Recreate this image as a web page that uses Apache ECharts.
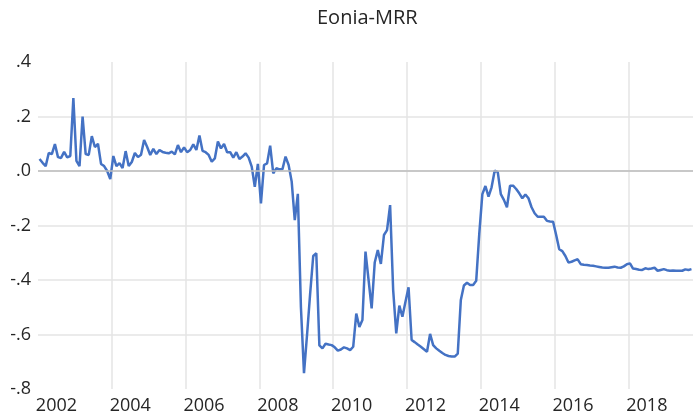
<!DOCTYPE html>
<html>
<head>
<meta charset="utf-8">
<script src="https://cdn.jsdelivr.net/npm/echarts@6/dist/echarts.min.js"></script>
<style>
html,body{margin:0;padding:0;background:#fff;}
#chart{width:693px;height:419px;}
</style>
</head>
<body>
<div id="chart"></div>
<script>
// Eonia minus MRR, monthly values, one array per year (Jan..Dec)
const startYear = 2002;
const v2002 = [0.044, 0.030, 0.018, 0.066, 0.062, 0.099, 0.051, 0.048, 0.070, 0.050, 0.055, 0.268];
const v2003 = [0.037, 0.018, 0.200, 0.062, 0.059, 0.128, 0.088, 0.100, 0.026, 0.018, 0.000, -0.030];
const v2004 = [0.055, 0.018, 0.029, 0.011, 0.073, 0.018, 0.033, 0.066, 0.051, 0.060, 0.114, 0.088];
const v2005 = [0.059, 0.081, 0.062, 0.077, 0.070, 0.067, 0.065, 0.071, 0.061, 0.095, 0.069, 0.087];
const v2006 = [0.069, 0.077, 0.098, 0.077, 0.130, 0.074, 0.069, 0.059, 0.034, 0.046, 0.108, 0.083];
const v2007 = [0.099, 0.069, 0.069, 0.049, 0.069, 0.044, 0.053, 0.065, 0.049, 0.016, -0.058, 0.026];
const v2008 = [-0.119, 0.022, 0.028, 0.093, -0.009, 0.010, 0.006, 0.007, 0.053, 0.022, -0.039, -0.180];
const v2009 = [-0.084, -0.500, -0.742, -0.600, -0.450, -0.312, -0.302, -0.640, -0.651, -0.634, -0.637, -0.639];
const v2010 = [-0.647, -0.659, -0.655, -0.647, -0.651, -0.657, -0.645, -0.523, -0.572, -0.547, -0.296, -0.400];
const v2011 = [-0.504, -0.336, -0.290, -0.341, -0.235, -0.217, -0.125, -0.437, -0.596, -0.494, -0.535, -0.480];
const v2012 = [-0.427, -0.620, -0.628, -0.637, -0.645, -0.654, -0.663, -0.598, -0.639, -0.651, -0.660, -0.668];
const v2013 = [-0.675, -0.679, -0.681, -0.681, -0.670, -0.473, -0.420, -0.410, -0.418, -0.418, -0.403, -0.230];
const v2014 = [-0.085, -0.055, -0.094, -0.060, 0.001, -0.003, -0.085, -0.106, -0.133, -0.054, -0.054, -0.066];
const v2015 = [-0.082, -0.100, -0.086, -0.100, -0.133, -0.155, -0.168, -0.168, -0.168, -0.183, -0.185, -0.186];
const v2016 = [-0.235, -0.287, -0.294, -0.312, -0.336, -0.333, -0.328, -0.324, -0.342, -0.344, -0.345, -0.347];
const v2017 = [-0.348, -0.350, -0.352, -0.354, -0.355, -0.355, -0.353, -0.351, -0.354, -0.355, -0.350, -0.342];
const v2018 = [-0.339, -0.358, -0.360, -0.362, -0.363, -0.357, -0.360, -0.358, -0.355, -0.366, -0.363, -0.360];
const v2019 = [-0.364, -0.366, -0.365, -0.366, -0.366, -0.366, -0.361, -0.363, -0.360];

const xTickLabels = ['2002', '2004', '2006', '2008', '2010', '2012', '2014', '2016', '2018'];
const yTicks = [-0.8, -0.6, -0.4, -0.2, 0, 0.2, 0.4];
const yTickLabels = ['-.8', '-.6', '-.4', '-.2', '.0', '.2', '.4'];

const yearly = [v2002, v2003, v2004, v2005, v2006, v2007, v2008, v2009, v2010,
                v2011, v2012, v2013, v2014, v2015, v2016, v2017, v2018, v2019];
const points = [];
yearly.forEach((arr, yi) => {
  arr.forEach((v, mi) => {
    points.push([startYear + yi + (mi + 0.5) / 12, v]);
  });
});

const FONT = 'Open Sans';
const TXT = '#262626';
const chart = echarts.init(document.getElementById('chart'), null, {renderer: 'canvas'});
chart.setOption({
  animation: false,
  backgroundColor: '#ffffff',
  title: {
    text: 'Eonia-MRR',
    left: 312, top: 3,
    textStyle: {fontFamily: FONT, fontSize: 20, fontWeight: 'normal', color: TXT}
  },
  grid: {left: 38, right: 0, top: 62, bottom: 30},
  xAxis: {
    type: 'value', min: 2002, max: 2019.75, interval: 2,
    axisLine: {show: false}, axisTick: {show: false},
    splitLine: {show: true, showMinLine: false, showMaxLine: false,
      lineStyle: {color: '#e4e4e4', width: 1.5}},
    axisLabel: {
      customValues: xTickLabels.map(s => Number(s) + 0.5),
      formatter: v => xTickLabels[Math.round((v - 0.5 - Number(xTickLabels[0])) / 2)] || '',
      fontFamily: FONT, fontSize: 18, color: TXT, margin: 8
    }
  },
  yAxis: {
    type: 'value', min: -0.8, max: 0.4, interval: 0.2,
    axisLine: {show: false}, axisTick: {show: false},
    splitLine: {show: true, showMinLine: false, showMaxLine: false,
      lineStyle: {color: '#e4e4e4', width: 1.5}},
    axisLabel: {
      formatter: v => {
        let best = 0;
        yTicks.forEach((t, i) => { if (Math.abs(t - v) < Math.abs(yTicks[best] - v)) best = i; });
        return yTickLabels[best];
      },
      fontFamily: FONT, fontSize: 18, color: TXT, margin: 7
    }
  },
  series: [
    {
      type: 'line', data: [], z: 1, silent: true,
      markLine: {
        silent: true, symbol: 'none', label: {show: false},
        lineStyle: {color: '#bdbdbd', width: 1.5, type: 'solid'},
        data: [{yAxis: 0}]
      }
    },
    {
      type: 'line', data: points, z: 3,
      symbol: 'none', showSymbol: false,
      lineStyle: {color: '#4472c4', width: 2.5},
      itemStyle: {color: '#4472c4'}
    }
  ]
});
</script>
</body>
</html>
